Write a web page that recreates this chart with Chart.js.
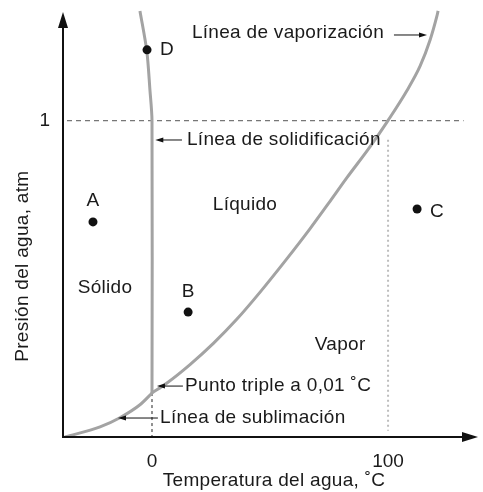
<!DOCTYPE html>
<html>
<head>
<meta charset="utf-8">
<script src="https://cdn.jsdelivr.net/npm/chart.js@4.4.1/dist/chart.umd.min.js"></script>
<style>
  html, body { margin: 0; padding: 0; background: #fff; }
  #wrap { width: 483px; height: 492px; }
</style>
</head>
<body>
<div id="wrap"><canvas id="phaseChart"></canvas></div>
<script>
// Phase diagram of water (schematic)

// vaporization curve (liquid / vapor)
const vaporT = [0, 6.2, 16.1, 26.0, 35.9, 45.8, 57.1, 66.9, 75.4, 82.5, 92.4, 100.1, 107.9, 113.6, 117.8, 120.6, 121.2];
const vaporP = [0.139, 0.17, 0.229, 0.296, 0.372, 0.458, 0.563, 0.658, 0.745, 0.819, 0.918, 1.002, 1.094, 1.173, 1.255, 1.328, 1.347];

// sublimation curve (solid / vapor)
const sublimT = [-36.9, -22, -13.6, -5.1, 0];
const sublimP = [0, 0.032, 0.061, 0.102, 0.139];

// solidification line (solid / liquid)
const fusionT = [0, 0, -0.9, -2.2, -5.1];
const fusionP = [0.139, 1.0, 1.1, 1.22, 1.347];

// labelled points
const pointNames = ['A', 'B', 'C', 'D'];
const pointT = [-25, 15.3, 112.3, -2.1];
const pointP = [0.68, 0.395, 0.721, 1.224];

// axis ticks
const xTicks = [0, 100];
const xTickLabels = ['0', '100'];
const yTicks = [1];
const yTickLabels = ['1'];

const FONT = '"Liberation Sans", Arial, sans-serif';
const CURVE = '#a3a3a3';

const toXY = (xs, ys) => xs.map((x, i) => ({ x: x, y: ys[i] }));

// text annotations: [text, T, P, align]
const notes = [
    ['Línea de vaporización', 16.9, 1.277, 'left'],
    ['Línea de solidificación', 14.8, 0.939, 'left'],
    ['Líquido', 39.4, 0.733, 'center'],
    ['Sólido', -19.9, 0.471, 'center'],
    ['Vapor', 79.7, 0.291, 'center'],
    ['Punto triple a 0,01 ˚C', 14, 0.161, 'left'],
    ['Línea de sublimación', 3.4, 0.06, 'left'],
    ['A', -25, 0.746, 'center'],
    ['B', 15.3, 0.458, 'center'],
    ['C', 117.8, 0.711, 'left'],
    ['D', 3.4, 1.224, 'left']
];
// arrows: [fromT, fromP, toT, toP]
const arrows = [
    [102.5, 1.271, 116.5, 1.271],
    [12.7, 0.939, 1.4, 0.939],
    [13.1, 0.161, 2.1, 0.161],
    [2.5, 0.06, -14.4, 0.06]
];

const annotate = {
    id: 'annotate',
    afterDatasetsDraw(chart) {
        const { ctx, chartArea: a, scales: { x, y } } = chart;
        ctx.save();
        // axes with arrow heads
        ctx.strokeStyle = '#111';
        ctx.fillStyle = '#111';
        ctx.lineWidth = 2;
        ctx.beginPath();
        ctx.moveTo(a.left, a.top + 8);
        ctx.lineTo(a.left, a.bottom);
        ctx.lineTo(a.right - 8, a.bottom);
        ctx.stroke();
        ctx.beginPath();
        ctx.moveTo(a.left, a.top + 2);
        ctx.lineTo(a.left - 5, a.top + 18);
        ctx.lineTo(a.left + 5, a.top + 18);
        ctx.closePath();
        ctx.fill();
        ctx.beginPath();
        ctx.moveTo(a.right, a.bottom);
        ctx.lineTo(a.right - 16, a.bottom - 5);
        ctx.lineTo(a.right - 16, a.bottom + 5);
        ctx.closePath();
        ctx.fill();

        // annotation arrows
        ctx.lineWidth = 1;
        arrows.forEach(([t0, p0, t1, p1]) => {
            const x0 = x.getPixelForValue(t0), y0 = y.getPixelForValue(p0);
            const x1 = x.getPixelForValue(t1), y1 = y.getPixelForValue(p1);
            const dir = Math.sign(x1 - x0);
            ctx.beginPath();
            ctx.moveTo(x0, y0);
            ctx.lineTo(x1 - dir * 6, y1);
            ctx.stroke();
            ctx.beginPath();
            ctx.moveTo(x1, y1);
            ctx.lineTo(x1 - dir * 8, y1 - 2.5);
            ctx.lineTo(x1 - dir * 8, y1 + 2.5);
            ctx.closePath();
            ctx.fill();
        });

        // labels
        ctx.fillStyle = '#1a1a1a';
        ctx.font = '19px ' + FONT;
        ctx.letterSpacing = '0.3px';
        ctx.textBaseline = 'middle';
        notes.forEach(([text, t, p, align]) => {
            ctx.textAlign = align;
            ctx.fillText(text, x.getPixelForValue(t), y.getPixelForValue(p));
        });

        // axis titles
        ctx.textAlign = 'center';
        ctx.fillText('Temperatura del agua, ˚C', x.getPixelForValue(51.7), 481);
        ctx.translate(23, y.getPixelForValue(0.54));
        ctx.rotate(-Math.PI / 2);
        ctx.fillText('Presión del agua, atm', 0, 0);
        ctx.restore();
    }
};

const noPad = s => {
    s.paddingTop = 0;
    s.paddingBottom = 0;
    s.paddingLeft = 0;
    s.paddingRight = 0;
};

const ctxPhase = document.getElementById('phaseChart').getContext('2d');
const phaseChart = new Chart(ctxPhase, {
    type: 'scatter',
    data: {
        datasets: [
            {
                label: 'Vaporización',
                data: toXY(vaporT, vaporP),
                showLine: true,
                borderColor: CURVE,
                borderWidth: 3,
                pointRadius: 0,
                cubicInterpolationMode: 'monotone',
                order: 1
            },
            {
                label: 'Sublimación',
                data: toXY(sublimT, sublimP),
                showLine: true,
                borderColor: CURVE,
                borderWidth: 3,
                pointRadius: 0,
                cubicInterpolationMode: 'monotone',
                order: 1
            },
            {
                label: 'Solidificación',
                data: toXY(fusionT, fusionP),
                showLine: true,
                borderColor: CURVE,
                borderWidth: 3,
                pointRadius: 0,
                tension: 0.3,
                order: 1
            },
            {
                label: '1 atm',
                data: [{ x: -36, y: 1 }, { x: 132, y: 1 }],
                showLine: true,
                borderColor: '#555',
                borderWidth: 1,
                borderDash: [5, 4],
                pointRadius: 0,
                order: 2
            },
            {
                label: '100 C',
                data: [{ x: 100, y: 0.94 }, { x: 100, y: 0.02 }],
                showLine: true,
                borderColor: '#bdbdbd',
                borderWidth: 2,
                borderDash: [2, 3],
                pointRadius: 0,
                order: 2
            },
            {
                label: '0 C',
                data: [{ x: 0, y: 0.139 }, { x: 0, y: 0 }],
                showLine: true,
                borderColor: '#222',
                borderWidth: 1,
                borderDash: [3, 3],
                pointRadius: 0,
                order: 2
            },
            {
                label: 'Puntos',
                data: toXY(pointT, pointP),
                pointRadius: 4.5,
                pointBackgroundColor: '#111',
                pointBorderWidth: 0,
                order: 0
            }
        ]
    },
    options: {
        responsive: true,
        maintainAspectRatio: false,
        animation: false,
        layout: { padding: { top: 10, right: 5, left: 0, bottom: 0 } },
        scales: {
            x: {
                type: 'linear',
                min: -37.7,
                max: 138.1,
                grid: { display: false, drawTicks: false },
                border: { display: false },
                afterBuildTicks: s => { s.ticks = xTicks.map(v => ({ value: v })); },
                afterFit: s => { s.height = 55; noPad(s); },
                ticks: {
                    padding: 13,
                    color: '#1a1a1a',
                    font: { size: 19, family: FONT },
                    callback: v => xTickLabels[xTicks.indexOf(v)]
                }
            },
            y: {
                type: 'linear',
                min: 0,
                max: 1.35,
                grid: { display: false, drawTicks: false },
                border: { display: false },
                afterBuildTicks: s => { s.ticks = yTicks.map(v => ({ value: v })); },
                afterFit: s => { s.width = 63; noPad(s); },
                ticks: {
                    padding: 13,
                    color: '#1a1a1a',
                    font: { size: 19, family: FONT },
                    callback: v => yTickLabels[yTicks.indexOf(v)]
                }
            }
        },
        plugins: {
            legend: { display: false },
            tooltip: { enabled: false }
        }
    },
    plugins: [annotate]
});
</script>
</body>
</html>
